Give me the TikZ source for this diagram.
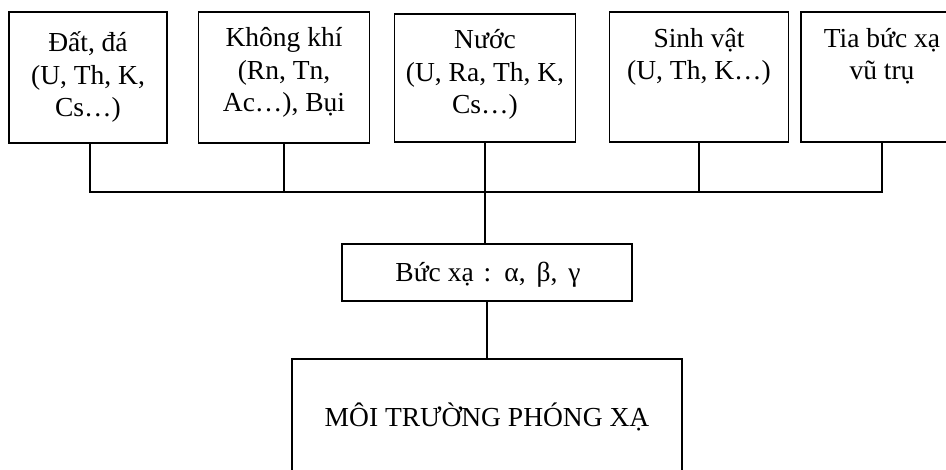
\documentclass[tikz,border=0pt]{standalone}
\usepackage{fontspec}
\setmainfont{Liberation Serif}
\begin{document}
\begin{tikzpicture}[x=1pt,y=-1pt,
  box/.style={draw, line width=1.6pt, inner sep=0pt},
  lbl/.style={font=\fontsize{27.5}{32.5}\selectfont, align=center, inner sep=0pt, anchor=base},
  wire/.style={line width=1.6pt}]
\path[use as bounding box, fill=white] (0,0) rectangle (946,470);
\clip (0,0) rectangle (946,470);
% top boxes
\node[box, minimum width=158pt, minimum height=131pt] (b1) at (88,77.5) {};
\node[box, minimum width=171pt, minimum height=131pt] (b2) at (284,77.5) {};
\node[box, minimum width=181pt, minimum height=128pt] (b3) at (485,78) {};
\node[box, minimum width=179pt, minimum height=130pt] (b4) at (699,77) {};
\node[box, minimum width=162pt, minimum height=130pt] (b5) at (882,77) {};
% (base anchor = baseline of the last line)
\node[lbl] (t1) at (88,117) {Đất, đá\\(U, Th, K,\\Cs…)};
\node[lbl] (t2) at (284,112) {Không khí\\(Rn, Tn,\\Ac…), Bụi};
\node[lbl] (t3) at (485,114) {Nước\\(U, Ra, Th, K,\\Cs…)};
\node[lbl] (t4) at (699,80) {Sinh vật\\(U, Th, K…)};
\node[lbl] (t5) at (882,80) {Tia bức xạ\\vũ trụ};
% radiation box
\node[box, minimum width=290pt, minimum height=57pt] (r) at (487,272.5) {};
\node[lbl] (rt) at (488,282) {Bức xạ\hspace{3pt} :\hspace{4pt} α,\hspace{4pt} β,\hspace{4pt} γ};
% environment box
\node[box, minimum width=390pt, minimum height=161pt] (m) at (487,439.5) {};
\node[lbl] (mt) at (487,427) {MÔI TRƯỜNG PHÓNG XẠ};
% connectors
\coordinate (bus) at (0,192);
\draw[wire] ([xshift=2pt]b1.south) |- (b5.south |- bus) -- (b5.south);
\draw[wire] (b2.south) -- (b2.south |- bus);
\draw[wire] (b3.south) -- (b3.south |- bus);
\draw[wire] (b4.south) -- (b4.south |- bus);
\draw[wire] ([xshift=-2pt]r.north |- bus) -- ([xshift=-2pt]r.north);
\draw[wire] (r.south) -- (m.north);
\end{tikzpicture}
\end{document}
